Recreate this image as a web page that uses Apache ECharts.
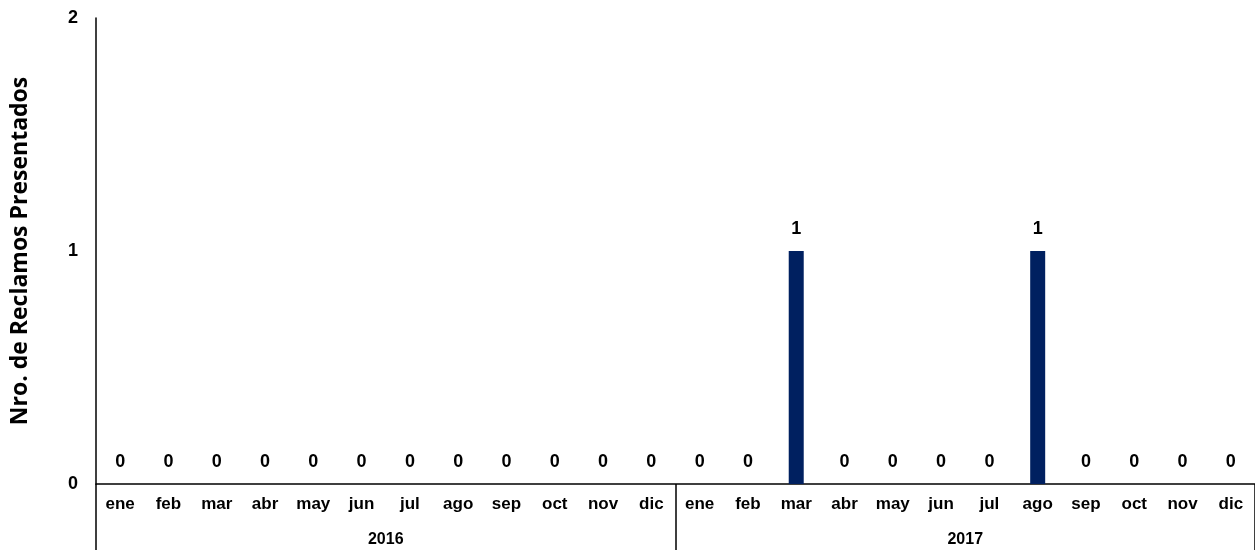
<!DOCTYPE html>
<html><head><meta charset="utf-8">
<script src="https://cdn.jsdelivr.net/npm/echarts@6/dist/echarts.min.js"></script>
<style>html,body{margin:0;padding:0;background:#fff}#c{width:1255px;height:550px}</style>
</head><body><div id="c"></div>
<script>
const months = ['ene','feb','mar','abr','may','jun','jul','ago','sep','oct','nov','dic','ene','feb','mar','abr','may','jun','jul','ago','sep','oct','nov','dic'];
const years = ['2016','2017'];
const values = [0,0,0,0,0,0,0,0,0,0,0,0,0,0,1,0,0,0,0,1,0,0,0,0];
const yTitle = 'Nro. de Reclamos Presentados';

const chart = echarts.init(document.getElementById('c'));
chart.setOption({
  animation:false,
  grid:{left:96,right:-2,top:18,bottom:66},
  xAxis:[{
    type:'category',data:months,position:'bottom',
    axisLine:{lineStyle:{color:'#000',width:1.5}},
    axisTick:{show:false},
    axisLabel:{color:'#000',fontFamily:'Arial',fontWeight:'bold',fontSize:17,margin:12,interval:0}
  },{
    type:'category',data:years,position:'bottom',
    axisLine:{show:false},
    axisTick:{show:true,length:66,lineStyle:{color:'#000',width:1.5}},
    axisLabel:{color:'#000',fontFamily:'Arial',fontWeight:'bold',fontSize:16,margin:48}
  }],
  yAxis:{
    type:'value',min:0,max:2,interval:1,
    name:yTitle,nameLocation:'middle',nameGap:64,
    nameTextStyle:{color:'#000',fontFamily:'Open Sans',fontWeight:'bold',fontSize:23},
    axisLine:{show:true,lineStyle:{color:'#000',width:1.5}},
    axisTick:{show:false},splitLine:{show:false},
    axisLabel:{color:'#000',fontFamily:'Arial',fontWeight:'bold',fontSize:18,margin:18}
  },
  series:[{
    type:'bar',data:values,xAxisIndex:0,barWidth:15,
    itemStyle:{color:'#002060'},
    label:{show:true,position:'top',distance:13,color:'#000',fontFamily:'Arial',fontWeight:'bold',fontSize:18}
  }]
});
</script></body></html>
